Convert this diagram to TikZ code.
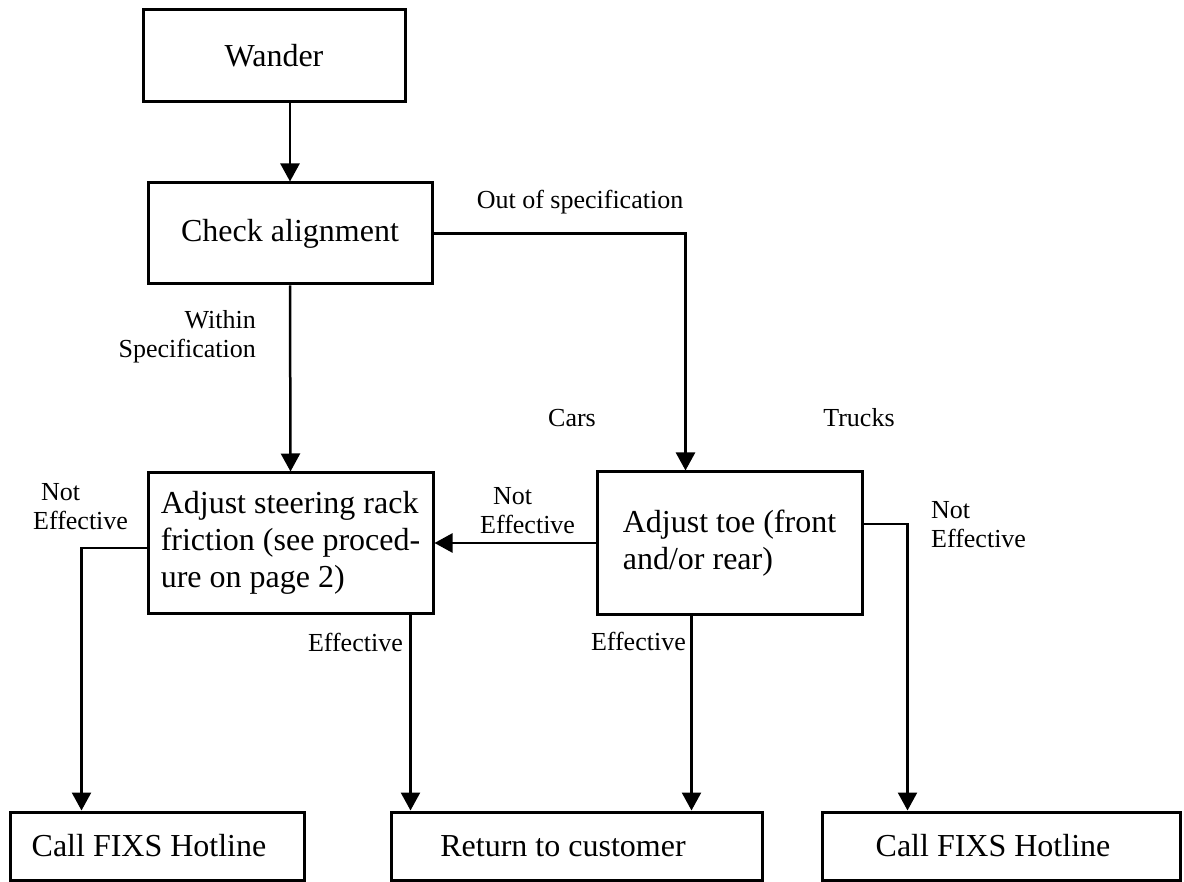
\documentclass[tikz,border=0pt]{standalone}
\usepackage{fontspec}
\setmainfont{Liberation Serif}
\usetikzlibrary{arrows.meta}
\begin{document}
\begin{tikzpicture}[x=1pt,y=-1pt,
  box/.style={draw,line width=3pt,rectangle,inner sep=0pt,font=\fontsize{32}{37}\selectfont},
  lbl/.style={inner sep=0pt,font=\fontsize{26}{29}\selectfont},
  conn/.style={line width=2.5pt,-{Triangle[length=18pt,width=19pt]}},
  wire/.style={line width=2.5pt}]
\useasboundingbox (0,0) rectangle (1184,882);
% boxes
\node[box,minimum width=262pt,minimum height=92pt] (wander) at (274,56) {Wander};
\node[box,minimum width=284pt,minimum height=101pt] (check) at (290,233.5) {Check alignment};
\node[box,minimum width=285pt,minimum height=140pt,align=left] (rack) at (290.5,543) {Adjust steering rack\\friction (see proced-\\ure on page 2)};
\node[box,minimum width=265pt,minimum height=142pt,align=left] (toe) at (729.5,543) {Adjust toe (front\\and/or rear)};
\node[box,minimum width=294pt,minimum height=68pt] (fixsL) at (157,846) {Call FIXS Hotline\hspace*{16pt}};
\node[box,minimum width=371pt,minimum height=68pt] (ret) at (576.5,846) {Return to customer\hspace*{27pt}};
\node[box,minimum width=358pt,minimum height=68pt] (fixsR) at (1001,846) {Call FIXS Hotline\hspace*{16pt}};
% labels
\node[lbl] (outspec) at (580,202) {Out of specification};
\node[lbl,anchor=east,align=right] (within) at (256,337) {Within\\Specification};
\node[lbl] (cars) at (572,418) {Cars};
\node[lbl] (trucks) at (859,418) {Trucks};
\node[lbl,anchor=west,align=left] (neL) at (33,507) {\hspace{8pt}Not\\Effective};
\node[lbl,anchor=west,align=left] (neM) at (480,511) {\hspace{13pt}Not\\Effective};
\node[lbl,anchor=west,align=left] (neR) at (931,525) {Not\\Effective};
\node[lbl,anchor=east] (effR) at (403,642) {Effective};
\node[lbl,anchor=east] (effT) at (686,641) {Effective};
% connectors
\coordinate (toeIn) at ([xshift=90pt]toe.north west);
\coordinate (fixsLIn) at ([xshift=73pt]fixsL.north west);
\coordinate (rackOut) at ([xshift=-24pt]rack.south east);
\coordinate (toeOut) at ([xshift=96pt]toe.south west);
\coordinate (fixsRIn) at ([xshift=87pt]fixsR.north west);
\draw[conn] (wander.south -| check.north) -- (check.north);
\draw[conn] (check.south) -- (rack.north);
\draw[conn] (check.east) -| (toeIn);
\draw[conn] (toe.west) -- (rack.east);
\draw[conn] ([yshift=-5pt]rack.west) -| (fixsLIn);
\draw[conn] (rackOut) -- (rackOut |- ret.north);
\draw[conn] (toeOut) -- (toeOut |- ret.north);
\draw[conn] ([yshift=19pt]toe.east) -| (fixsRIn);
\end{tikzpicture}
\end{document}
